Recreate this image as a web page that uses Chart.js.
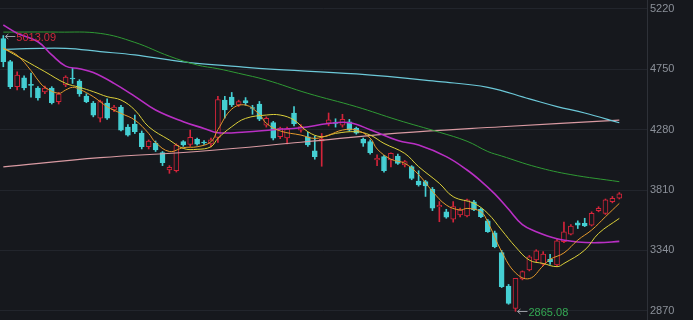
<!DOCTYPE html>
<html><head><meta charset="utf-8">
<script src="https://cdn.jsdelivr.net/npm/chart.js@4/dist/chart.umd.min.js"></script>
<style>html,body{margin:0;padding:0;background:#16181d;overflow:hidden;}</style>
</head><body>
<canvas id="c" width="693" height="320"></canvas>
<script>
// ---- data ----
const opens = [4990,4810,4615,4683,4632,4605,4574,4605,4498,4628,
  4680,4659,4542,4487,4369,4487,4433,4456,4301,4324,
  4254,4147,4176,4101,3966,3960,4187,4166,4205,4180,
  4170,4220,4511,4534,4472,4506,4450,4480,4316,4335,
  4225,4215,4410,4277,4225,4116,4190,4330,4335,4316,
  4342,4291,4205,4187,4044,4070,4044,4075,4005,3992,
  3880,3875,3816,3680,3641,3582,3616,3609,3718,3660,
  3571,3477,3322,3062,2888,3117,3187,3265,3233,3270,
  3226,3407,3467,3555,3550,3537,3649,3628,3720,3746];
const highs = [5013.09,4820,4730,4700,4721,4615,4620,4615,4570,4700,
  4758,4670,4560,4500,4510,4520,4470,4470,4320,4394,
  4270,4200,4192,4110,4000,4170,4195,4277,4215,4195,
  4215,4540,4540,4570,4510,4530,4470,4500,4380,4345,
  4300,4300,4460,4320,4260,4230,4250,4410,4365,4400,
  4360,4300,4215,4200,4085,4080,4100,4090,4040,4000,
  3960,3885,3830,3720,3660,3720,3670,3740,3730,3670,
  3580,3490,3340,3075,3122,3180,3300,3345,3330,3310,
  3430,3560,3540,3570,3590,3640,3680,3740,3760,3790];
const lows = [4770,4600,4590,4590,4534,4510,4560,4480,4480,4615,
  4640,4540,4490,4380,4340,4360,4420,4270,4230,4250,
  4130,4130,4110,4000,3940,3950,4150,4150,4160,4165,
  4145,4180,4370,4460,4460,4470,4400,4350,4300,4200,
  4210,4170,4310,4260,4150,4050,3995,4310,4300,4300,
  4270,4245,4150,4090,4000,3950,3990,4010,3990,3890,
  3840,3760,3650,3563,3590,3560,3600,3600,3650,3595,
  3480,3360,3050,2920,2865.08,3110,3180,3250,3220,3230,
  3215,3400,3460,3510,3525,3530,3640,3620,3710,3740];
const closes = [4810,4615,4706,4605,4625,4527,4605,4490,4558,4690,
  4675,4558,4498,4394,4498,4369,4456,4277,4238,4264,
  4147,4192,4122,4023,3987,4161,4161,4220,4168,4176,
  4200,4515,4433,4472,4498,4490,4445,4361,4369,4213,
  4293,4285,4324,4304,4161,4069,4205,4356,4328,4361,
  4277,4252,4174,4101,4057,3960,4096,4018,4031,3901,
  3849,3841,3668,3690,3598,3682,3655,3733,3655,3603,
  3485,3368,3057,2927,3122,3174,3289,3337,3311,3252,
  3415,3485,3530,3537,3530,3628,3668,3733,3746,3780];

// moving-average lines, [candle index, value]
const ma5 = [[0,4914],[2,4860],[4,4740],[5,4667],[6,4610],[8,4563],[9,4589],[10,4610],[11,4595],[13,4537],
  [15,4459],[17,4407],[19,4355],[21,4251],[22,4180],[24,4110],[26,4140],[28,4147],[30,4186],[31,4280],
  [33,4440],[35,4472],[37,4400],[38,4330],[40,4270],[43,4238],[45,4212],[47,4238],[49,4277],[51,4277],
  [53,4215],[54,4130],[56,4050],[58,4018],[60,3930],[62,3800],[64,3693],[66,3654],[67,3667],[69,3641],
  [70,3560],[72,3330],[74,3165],[76,3120],[78,3220],[79,3270],[81,3320],[83,3420],[85,3498],[87,3602],[89,3706]];
const ma10 = [[0,4914],[3,4823],[6,4732],[9,4641],[11,4610],[13,4576],[15,4537],[17,4511],[19,4433],[21,4303],
  [24,4199],[26,4134],[28,4127],[30,4147],[31,4212],[33,4303],[35,4368],[38,4394],[40,4394],[42,4355],
  [44,4264],[46,4225],[48,4251],[51,4264],[53,4238],[55,4173],[58,4095],[60,3992],[63,3862],[65,3758],
  [68,3706],[70,3628],[72,3498],[74,3368],[76,3264],[78,3238],[80,3213],[81,3238],[84,3342],[86,3472],[89,3589]];
const ma20 = [[0,5095],[2,5031],[5,4965],[7,4862],[9,4775],[11,4755],[13,4725],[16,4641],[19,4540],[22,4433],
  [26,4342],[29,4290],[31,4256],[35,4262],[39,4280],[43,4295],[47,4328],[50,4334],[53,4280],[57,4195],
  [60,4160],[64,4070],[67,3966],[69,3880],[71,3780],[73,3660],[75,3540],[77,3485],[80,3430],[83,3405],[86,3400],[89,3410]];
const ma60 = [[0,5040],[8,5040],[14,5030],[19,4960],[24,4852],[28,4784],[31,4755],[34,4719],[38,4667],[44,4563],
  [51,4459],[57,4355],[63,4260],[67,4190],[70,4110],[72,4075],[77,3990],[82,3930],[89,3875]];
const ma120 = [[0,4906],[9,4914],[14,4888],[19,4862],[24,4823],[28,4797],[34,4771],[38,4753],[51,4714],[63,4654],
  [70,4610],[76,4520],[80,4460],[84,4410],[89,4334]];
const ma250 = [[0,3991],[14,4062],[28,4110],[43,4182],[57,4253],[72,4303],[89,4355]];

const yTicks = [2870, 3340, 3810, 4280, 4750, 5220];
const marks = [
  {i: 0, v: 5013.09, text: '5013.09', color: '#d0293d'},
  {i: 74, v: 2865.08, text: '2865.08', color: '#34a853'}
];

// ---- styling ----
const BG = '#16181d';
const UP = '#d3243a';
const DOWN = '#45cfd3';
const FONT = '"Liberation Sans", Arial, sans-serif';

const idx = opens.map((_, i) => i);
const isUp = i => closes[i] >= opens[i];
const pts = arr => arr.map(p => ({x: p[0], y: p[1]}));

const lineDs = (data, color, w) => ({
  type: 'line', data: pts(data), borderColor: color, borderWidth: w,
  pointRadius: 0, tension: 0.4, fill: false, order: 1
});

const markerPlugin = {
  id: 'markers',
  afterDatasetsDraw(chart) {
    const {ctx, scales: {x, y}} = chart;
    marks.forEach(m => {
      const px = x.getPixelForValue(m.i), py = Math.round(y.getPixelForValue(m.v)) + 0.5;
      ctx.save();
      ctx.strokeStyle = '#9a9ca2'; ctx.lineWidth = 1;
      const x0 = px + 2, x1 = px + 12;
      ctx.beginPath();
      ctx.moveTo(x0, py); ctx.lineTo(x1, py);
      ctx.moveTo(x0 + 3, py - 2.5); ctx.lineTo(x0, py); ctx.lineTo(x0 + 3, py + 2.5);
      ctx.stroke();
      ctx.fillStyle = m.color;
      ctx.font = '11px ' + FONT;
      ctx.textBaseline = 'middle';
      ctx.fillText(m.text, x1 + 1, py + 1);
      ctx.restore();
    });
  }
};

new Chart(document.getElementById('c'), {
  type: 'bar',
  data: {
    datasets: [
      lineDs(ma5, '#e59a2c', 1),
      lineDs(ma10, '#dcd03a', 1),
      lineDs(ma20, '#b92fc4', 1.6),
      lineDs(ma60, '#2f9a34', 1),
      lineDs(ma120, '#6cc8d8', 1.2),
      lineDs(ma250, '#d99aa2', 1.2),
      {
        label: 'body',
        data: idx.map(i => ({x: i, y: [opens[i], closes[i]]})),
        backgroundColor: idx.map(i => isUp(i) ? BG : DOWN),
        borderColor: idx.map(i => isUp(i) ? UP : DOWN),
        borderWidth: 1, borderSkipped: false, barThickness: 5, minBarLength: 1,
        grouped: false, order: 5
      },
      {
        label: 'wick',
        data: idx.map(i => ({x: i, y: [lows[i], highs[i]]})),
        backgroundColor: idx.map(i => isUp(i) ? UP : DOWN),
        borderWidth: 0, barThickness: 1, grouped: false, order: 6
      }
    ]
  },
  options: {
    responsive: false, animation: false,
    layout: {padding: 0},
    plugins: {legend: {display: false}, tooltip: {enabled: false}},
    scales: {
      x: {type: 'linear', min: -0.48, max: 93, display: false, offset: false},
      y: {
        position: 'right', min: 2797.6, max: 5290.1,
        afterBuildTicks: s => { s.ticks = yTicks.map(v => ({value: v})); },
        afterFit: s => { s.width = 46; s.paddingTop = 0; s.paddingBottom = 0; },
        grid: {color: '#22252c', drawTicks: false},
        border: {color: '#2e3138'},
        ticks: {color: '#8b9099', font: {size: 11, family: FONT}, padding: 3,
          callback: v => String(v)}
      }
    }
  },
  plugins: [markerPlugin]
});
</script>
</body></html>
